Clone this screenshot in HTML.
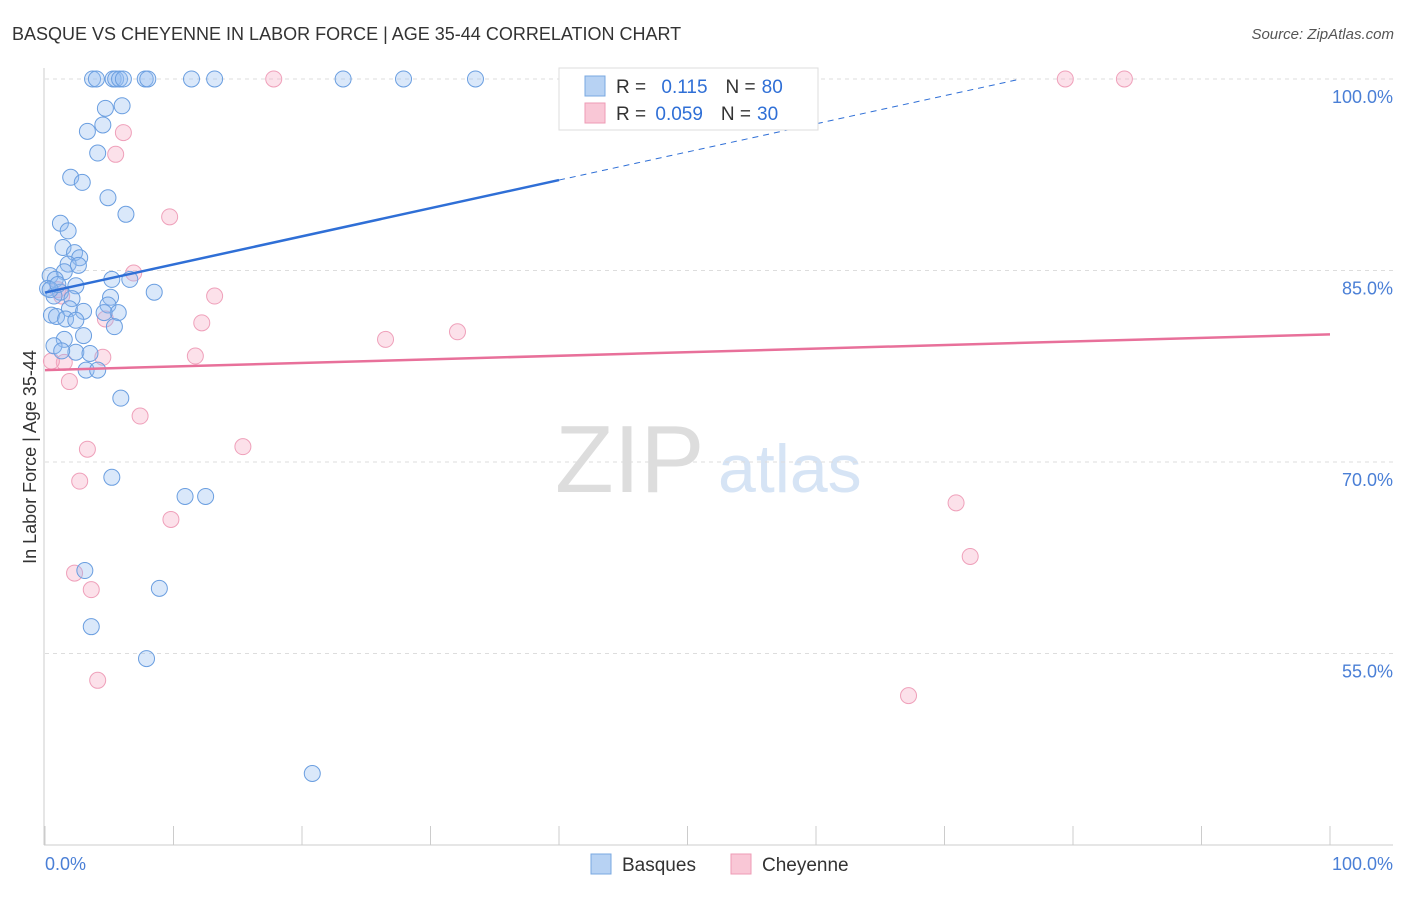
<!DOCTYPE html>
<html><head><meta charset="utf-8"><style>
body{margin:0;background:#fff;font-family:"Liberation Sans",sans-serif}
svg text{font-family:"Liberation Sans",sans-serif}
</style></head><body>
<svg id="chart" width="1406" height="892" xmlns="http://www.w3.org/2000/svg">
<text x="12" y="40" font-size="18" fill="#333">BASQUE VS CHEYENNE IN LABOR FORCE | AGE 35-44 CORRELATION CHART</text>
<text x="1394" y="39" font-size="15" fill="#555" text-anchor="end" font-style="italic">Source: ZipAtlas.com</text>
<text x="36" y="457" font-size="18" fill="#333" text-anchor="middle" transform="rotate(-90 36 457)">In Labor Force | Age 35-44</text>
<text x="555" y="492" font-size="96" fill="#ddd" font-family="Liberation Serif">ZIP</text>
<text x="718" y="492" font-size="68" fill="#d6e4f5">atlas</text>
<g id="grid"></g><g id="marks"></g><g id="trends"></g>
<g>
<rect x="559" y="68" width="259" height="62" fill="#fff" stroke="#ddd"/>
<rect x="585" y="76" width="20" height="20" fill="#b7d2f3" stroke="#7aa8e0"/>
<rect x="585" y="103" width="20" height="20" fill="#f9c7d6" stroke="#ee9bb5"/>
<text x="616" y="93" font-size="19" fill="#333">R = <tspan fill="#2f6fd6" dx="10">0.115</tspan><tspan dx="18">N =</tspan><tspan fill="#2f6fd6" dx="6">80</tspan></text>
<text x="616" y="120" font-size="19" fill="#333">R = <tspan fill="#2f6fd6" dx="4">0.059</tspan><tspan dx="18">N =</tspan><tspan fill="#2f6fd6" dx="6">30</tspan></text>
</g>
<g>
<rect x="591" y="854" width="20" height="20" fill="#b7d2f3" stroke="#7aa8e0"/>
<text x="622" y="871" font-size="19" fill="#333">Basques</text>
<rect x="731" y="854" width="20" height="20" fill="#f9c7d6" stroke="#ee9bb5"/>
<text x="762" y="871" font-size="19" fill="#333">Cheyenne</text>
</g>
<text x="45" y="870" font-size="18" fill="#4a7fd6">0.0%</text>
<text x="1393" y="870" font-size="18" fill="#4a7fd6" text-anchor="end">100.0%</text>
</svg>
<script>
const yTicks=[100,85,70,55];
const yTickLabels=["100.0%","85.0%","70.0%","55.0%"];
const xTicks=[0,10,20,30,40,50,60,70,80,90,100];
const basqueX=[3.7,4.0,5.3,5.5,5.8,6.1,7.8,8.0,11.4,13.2,23.2,27.9,33.5,4.7,6.0,3.3,4.5,4.1,2.0,2.9,4.9,6.3,1.2,1.8,1.4,2.3,2.7,1.8,2.6,1.5,0.4,0.8,5.2,6.6,2.4,0.2,1.2,8.5,0.7,2.1,5.1,4.9,1.9,3.0,5.7,4.6,0.5,0.9,1.6,2.4,5.4,3.0,1.5,0.7,2.4,3.5,1.3,3.2,4.1,5.9,5.2,10.9,12.5,3.1,8.9,3.6,7.9,20.8,0.4,1.0];
const basqueY=[100,100,100,100,100,100,100,100,100,100,100,100,100,97.7,97.9,95.9,96.4,94.2,92.3,91.9,90.7,89.4,88.7,88.1,86.8,86.4,86.0,85.5,85.4,84.9,84.6,84.3,84.3,84.3,83.8,83.6,83.3,83.3,83.0,82.8,82.9,82.3,82.0,81.8,81.7,81.7,81.5,81.4,81.2,81.1,80.6,79.9,79.6,79.1,78.6,78.5,78.7,77.2,77.2,75.0,68.8,67.3,67.3,61.5,60.1,57.1,54.6,45.6,83.5,83.9];
const cheyX=[17.8,79.4,84.0,6.1,5.5,9.7,6.9,13.2,12.2,4.7,26.5,32.1,11.7,4.5,1.5,0.5,1.9,7.4,15.4,3.3,2.7,9.8,70.9,72.0,2.3,3.6,4.1,67.2,1.0,1.3];
const cheyY=[100,100,100,95.8,94.1,89.2,84.8,83.0,80.9,81.2,79.6,80.2,78.3,78.2,77.8,77.9,76.3,73.6,71.2,71.0,68.5,65.5,66.8,62.6,61.3,60.0,52.9,51.7,83.5,83.0];
const basqueTrend=[83.27,105.3];
const cheyTrend=[77.2,80.0];
const NS="http://www.w3.org/2000/svg";
const X=v=>45+v*12.85, Y=v=>845-(v-40)*12.767;
function mk(t,a,p){const e=document.createElementNS(NS,t);for(const k in a)e.setAttribute(k,a[k]);p.appendChild(e);return e;}
const grid=document.getElementById('grid');
yTicks.forEach((t,i)=>{
 const l=mk('line',{x1:45,x2:1393,y1:Y(t),y2:Y(t),stroke:'#ddd','stroke-dasharray':'4,4'},grid);
 
 
 const tx=mk('text',{x:1393,y:Y(t)+24,'font-size':18,fill:'#4a7fd6','text-anchor':'end'},grid);
 tx.textContent=yTickLabels[i];
 
 
});
let ax=mk('line',{x1:44,x2:44,y1:68,y2:845,stroke:'#ccc'},grid);


ax=mk('line',{x1:44,x2:1393,y1:845,y2:845,stroke:'#ccc'},grid);


xTicks.forEach(t=>{
 const l=mk('line',{x1:X(t),x2:X(t),y1:826,y2:845,stroke:'#ccc'},grid);
 
 
});
const marks=document.getElementById('marks');
cheyX.forEach((v,i)=>{
 const c=mk('circle',{cx:X(v),cy:Y(cheyY[i]),r:8,fill:'rgba(246,170,195,0.35)',stroke:'#efa0ba','stroke-width':1},marks);
 
 
});
basqueX.forEach((v,i)=>{
 const c=mk('circle',{cx:X(v),cy:Y(basqueY[i]),r:8,fill:'rgba(150,190,240,0.35)',stroke:'#6a9ee0','stroke-width':1},marks);
 
 
});
const tr=document.getElementById('trends');
const bAt=x=>basqueTrend[0]+(basqueTrend[1]-basqueTrend[0])*x/100;
const xEnd=(100-basqueTrend[0])/(basqueTrend[1]-basqueTrend[0])*100;
let l=mk('line',{x1:X(0),y1:Y(bAt(0)),x2:X(40),y2:Y(bAt(40)),stroke:'#2f6fd6','stroke-width':2.5},tr);


l=mk('line',{x1:X(40),y1:Y(bAt(40)),x2:X(xEnd),y2:Y(100),stroke:'#2f6fd6','stroke-width':1,'stroke-dasharray':'6,5'},tr);


l=mk('line',{x1:X(0),y1:Y(cheyTrend[0]),x2:X(100),y2:Y(cheyTrend[1]),stroke:'#e8709a','stroke-width':2.5},tr);


</script>
</body></html>
